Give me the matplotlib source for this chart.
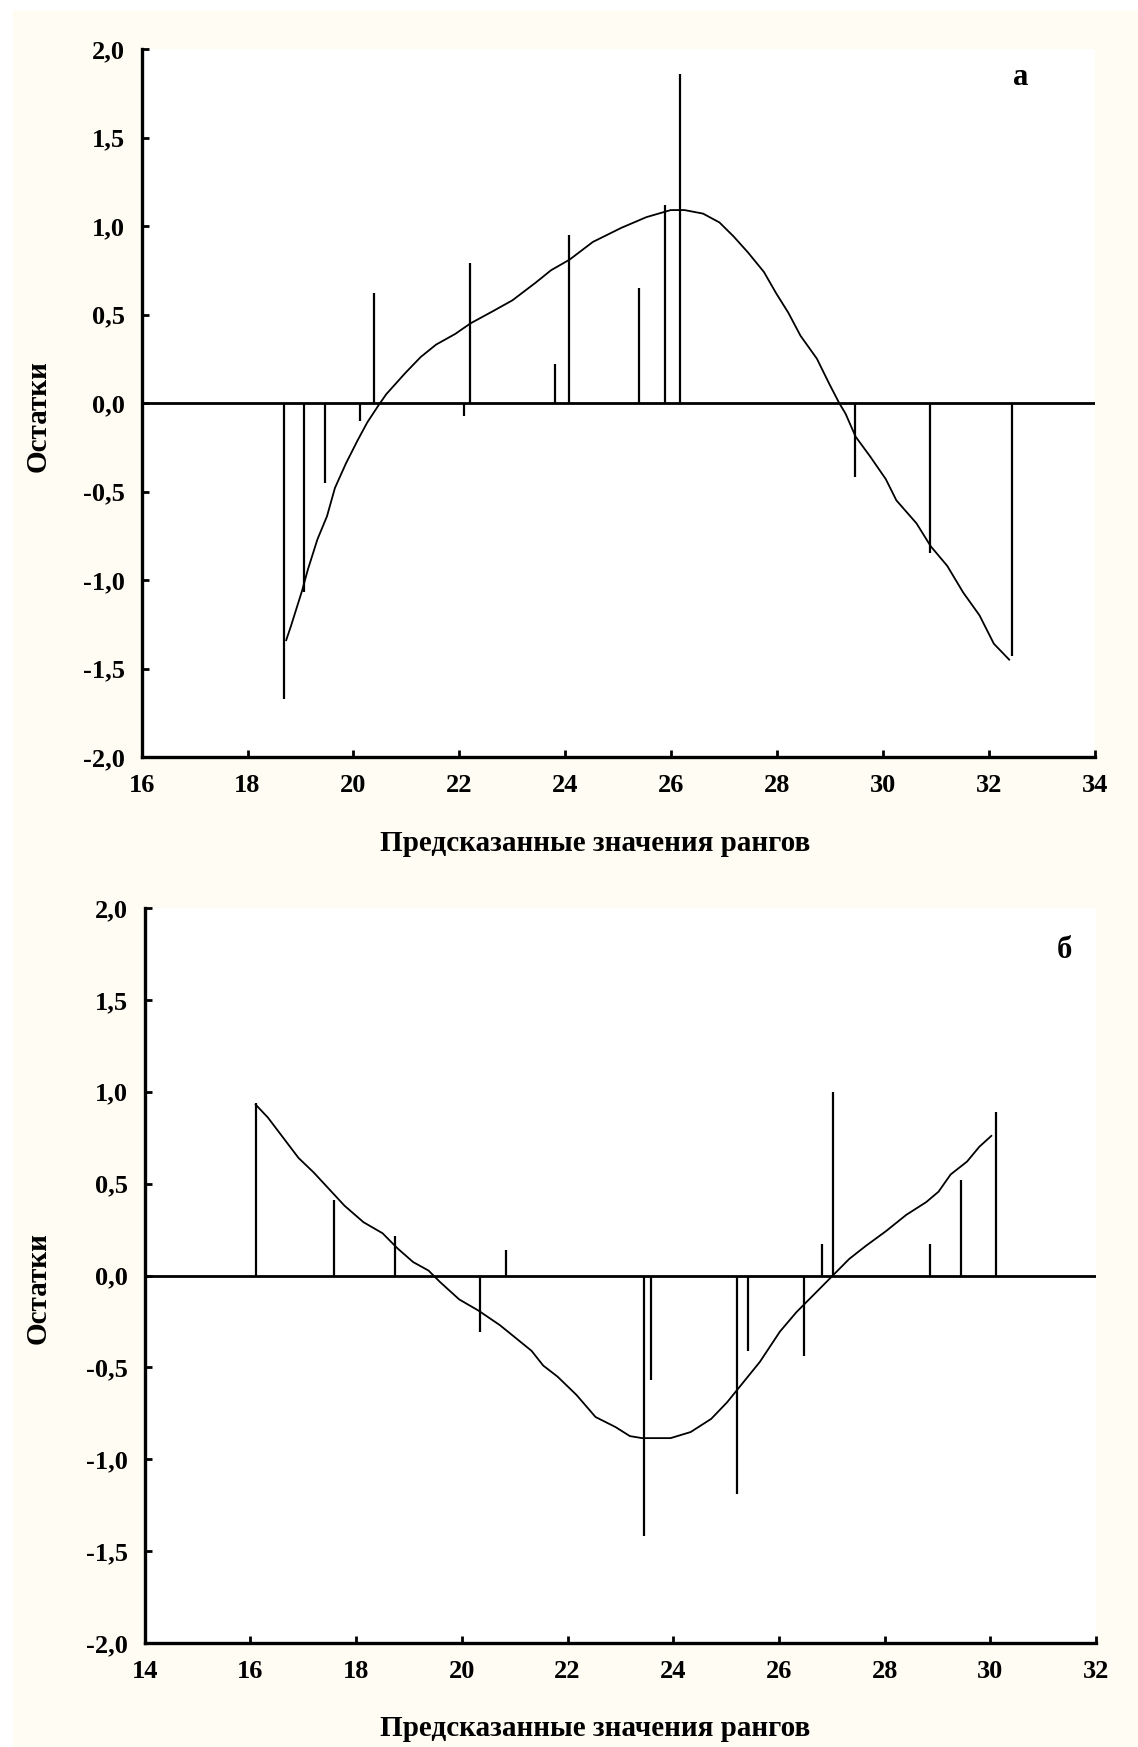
import matplotlib
matplotlib.use("Agg")
import matplotlib.pyplot as plt
from matplotlib.patches import Rectangle

plt.rcParams['font.family'] = ['Liberation Serif', 'DejaVu Serif']
plt.rcParams['font.weight'] = 'bold'

# панель а: остатки
a_x = [18.69, 19.07, 19.47, 20.12, 20.39, 22.09, 22.20, 23.81, 24.07, 25.39, 25.88, 26.16, 29.46, 30.88, 32.43]
a_res = [-1.67, -1.07, -0.45, -0.10, 0.62, -0.075, 0.79, 0.22, 0.95, 0.65, 1.12, 1.86, -0.42, -0.85, -1.43]
# сглаживающая кривая
a_curve_x = [18.73, 18.82, 19.03, 19.14, 19.32, 19.50, 19.65, 19.86, 20.08, 20.26, 20.48, 20.62, 20.77,
             20.98, 21.27, 21.56, 21.92, 22.21, 22.64, 23.00, 23.44, 23.73, 24.08, 24.52, 25.06, 25.53,
             25.99, 26.25, 26.60, 26.91, 27.18, 27.45, 27.75, 27.98, 28.21, 28.44, 28.75, 28.98, 29.17,
             29.29, 29.48, 29.75, 30.05, 30.25, 30.63, 30.90, 31.21, 31.51, 31.82, 32.09, 32.38]
a_curve_y = [-1.34, -1.26, -1.06, -0.94, -0.77, -0.64, -0.48, -0.34, -0.21, -0.11, -0.01, 0.05, 0.10,
             0.17, 0.26, 0.33, 0.39, 0.45, 0.52, 0.58, 0.68, 0.75, 0.81, 0.91, 0.99, 1.05,
             1.09, 1.09, 1.07, 1.02, 0.94, 0.85, 0.74, 0.62, 0.51, 0.38, 0.25, 0.11, 0.0,
             -0.06, -0.19, -0.30, -0.43, -0.55, -0.68, -0.81, -0.92, -1.07, -1.20, -1.36, -1.45]

# панель б
b_x = [16.10, 17.58, 18.74, 20.34, 20.84, 23.44, 23.58, 25.20, 25.42, 26.47, 26.81, 27.02, 28.85, 29.45, 30.11]
b_res = [0.94, 0.41, 0.215, -0.31, 0.14, -1.42, -0.57, -1.19, -0.41, -0.44, 0.17, 1.00, 0.17, 0.52, 0.89]
b_curve_x = [16.10, 16.33, 16.62, 16.91, 17.20, 17.49, 17.78, 18.14, 18.50, 18.79, 19.08, 19.37, 19.59,
             19.95, 20.31, 20.72, 21.32, 21.54, 21.81, 22.17, 22.53, 22.91, 23.18, 23.41, 23.95, 24.33,
             24.72, 25.02, 25.33, 25.64, 26.02, 26.33, 26.71, 27.02, 27.33, 27.64, 28.02, 28.41, 28.79,
             29.02, 29.25, 29.56, 29.79, 30.02]
b_curve_y = [0.93, 0.86, 0.75, 0.64, 0.56, 0.47, 0.38, 0.29, 0.23, 0.146, 0.073, 0.027, -0.036,
             -0.13, -0.19, -0.27, -0.41, -0.49, -0.55, -0.65, -0.77, -0.825, -0.874, -0.885, -0.885, -0.852,
             -0.78, -0.69, -0.58, -0.47, -0.305, -0.20, -0.09, 0.0, 0.09, 0.16, 0.24, 0.33, 0.40,
             0.456, 0.55, 0.62, 0.70, 0.76]

y_ticks = [2.0, 1.5, 1.0, 0.5, 0.0, -0.5, -1.0, -1.5, -2.0]
y_ticklabels = ['2,0', '1,5', '1,0', '0,5', '0,0', '-0,5', '-1,0', '-1,5', '-2,0']
a_xticks = [16, 18, 20, 22, 24, 26, 28, 30, 32, 34]
b_xticks = [14, 16, 18, 20, 22, 24, 26, 28, 30, 32]

xlabel = 'Предсказанные значения рангов'
ylabel = 'Остатки'

W, H = 1138, 1747
fig = plt.figure(figsize=(W / 100, H / 100), dpi=100)
fig.patch.set_facecolor('white')
fig.add_artist(Rectangle((13 / W, 0), 1, (H - 10) / H, transform=fig.transFigure,
                         facecolor='#fffdf3', edgecolor='none', zorder=0))


def panel(rect, xs, res, cx, cy, xticks, letter, letter_pos, xl_pos, yl_pos):
    ax = fig.add_axes(rect)
    ax.set_facecolor('white')
    ax.vlines(xs, 0, res, color='black', lw=1.6)
    ax.plot(cx, cy, color='black', lw=1.3)
    ax.axhline(0, color='black', lw=2)
    ax.set_xlim(xticks[0], xticks[-1])
    ax.set_ylim(-2, 2)
    ax.set_yticks(y_ticks)
    ax.set_yticklabels(y_ticklabels)
    ax.set_xticks(xticks)
    ax.set_xticklabels([str(t) for t in xticks])
    for s in ['top', 'right']:
        ax.spines[s].set_visible(False)
    for s in ['left', 'bottom']:
        ax.spines[s].set_linewidth(2.4)
    ax.tick_params(direction='in', length=5, width=2, labelsize=19)
    ax.tick_params(axis='y', pad=12)
    ax.tick_params(axis='x', pad=12)
    ax.set_xlabel(xlabel, fontsize=21, fontweight='bold')
    ax.set_ylabel(ylabel, fontsize=21, fontweight='bold')
    ax.xaxis.set_label_coords(*xl_pos)
    ax.yaxis.set_label_coords(*yl_pos)
    ax.text(letter_pos[0], letter_pos[1], letter, fontsize=22, fontweight='bold',
            ha='center', va='center')
    return ax


panel([141.6 / W, 1 - 757 / H, (1095 - 141.6) / W, 708 / H],
      a_x, a_res, a_curve_x, a_curve_y, a_xticks, 'а', (32.6, 1.84),
      (0.476, -0.103), (-0.094, 0.482))
panel([144.7 / W, 1 - 1643 / H, (1096 - 144.7) / W, 735 / H],
      b_x, b_res, b_curve_x, b_curve_y, b_xticks, 'б', (31.4, 1.77),
      (0.473, -0.098), (-0.0975, 0.483))

fig.savefig('out.png', dpi=100, facecolor=fig.get_facecolor())
